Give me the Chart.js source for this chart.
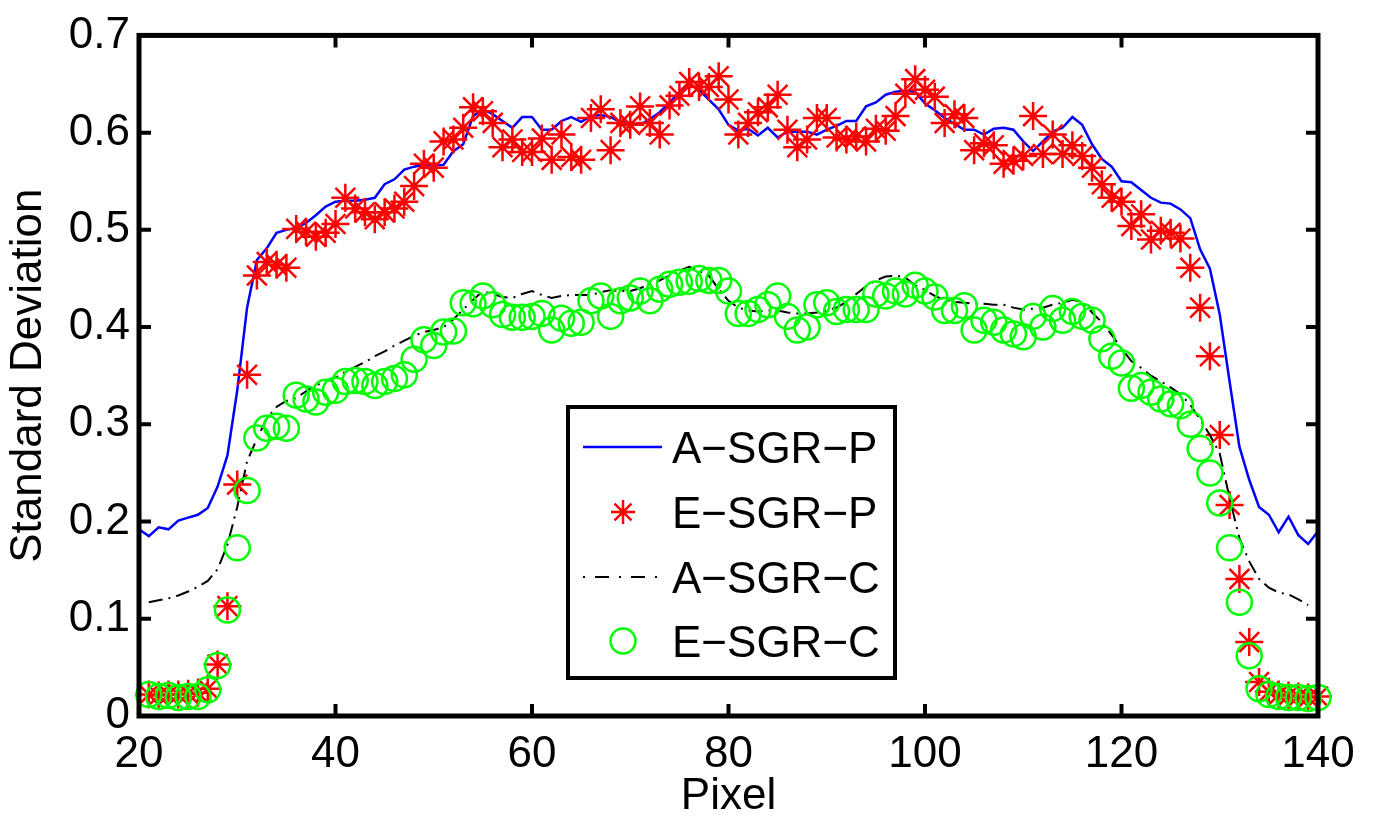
<!DOCTYPE html>
<html>
<head>
<meta charset="utf-8">
<script src="https://cdn.jsdelivr.net/npm/chart.js@4/dist/chart.umd.min.js"></script>
<style>
  body { margin: 0; background: #fff; }
  #wrap { width: 1375px; height: 823px; }
</style>
</head>
<body>
<div id="wrap"><canvas id="sdChart" width="1375" height="823"></canvas></div>
<script>
const pixel = [
  20, 21, 22, 23, 24, 25, 26, 27, 28, 29, 30, 31, 32, 33, 34, 35, 36, 37, 38, 39,
  40, 41, 42, 43, 44, 45, 46, 47, 48, 49, 50, 51, 52, 53, 54, 55, 56, 57, 58, 59,
  60, 61, 62, 63, 64, 65, 66, 67, 68, 69, 70, 71, 72, 73, 74, 75, 76, 77, 78, 79,
  80, 81, 82, 83, 84, 85, 86, 87, 88, 89, 90, 91, 92, 93, 94, 95, 96, 97, 98, 99,
  100, 101, 102, 103, 104, 105, 106, 107, 108, 109, 110, 111, 112, 113, 114, 115, 116, 117, 118, 119,
  120, 121, 122, 123, 124, 125, 126, 127, 128, 129, 130, 131, 132, 133, 134, 135, 136, 137, 138, 139,
  140
];

const aSgrP = [
  0.192, 0.185, 0.194, 0.192, 0.201, 0.204, 0.207, 0.214, 0.236, 0.268, 0.335, 0.420, 0.469, 0.481, 0.497, 0.500, 0.502, 0.507, 0.515, 0.524,
  0.529, 0.530, 0.530, 0.531, 0.533, 0.547, 0.552, 0.562, 0.565, 0.567, 0.566, 0.567, 0.581, 0.588, 0.617, 0.624, 0.619, 0.612, 0.605, 0.616,
  0.616, 0.603, 0.603, 0.612, 0.616, 0.611, 0.617, 0.618, 0.616, 0.611, 0.610, 0.608, 0.614, 0.621, 0.631, 0.642, 0.651, 0.644, 0.634, 0.624,
  0.608, 0.602, 0.604, 0.597, 0.605, 0.595, 0.601, 0.601, 0.601, 0.598, 0.603, 0.607, 0.612, 0.612, 0.627, 0.631, 0.639, 0.642, 0.643, 0.642,
  0.630, 0.623, 0.615, 0.609, 0.603, 0.603, 0.598, 0.604, 0.605, 0.603, 0.591, 0.581, 0.591, 0.601, 0.605, 0.616, 0.608, 0.588, 0.573, 0.565,
  0.550, 0.549, 0.541, 0.533, 0.528, 0.527, 0.521, 0.512, 0.480, 0.460, 0.413, 0.344, 0.277, 0.243, 0.215, 0.207, 0.189, 0.205, 0.186, 0.177,
  0.190
];

const eSgrP = [
  null, 0.022, 0.021, 0.022, 0.022, 0.023, 0.024, 0.028, 0.053, 0.113, 0.238, 0.351, 0.453, 0.467, 0.464, 0.461, 0.501, 0.498, 0.493, 0.497,
  0.506, 0.533, 0.522, 0.518, 0.511, 0.518, 0.522, 0.529, 0.545, 0.568, 0.564, 0.591, 0.593, 0.605, 0.626, 0.622, 0.610, 0.585, 0.593, 0.580,
  0.580, 0.594, 0.572, 0.598, 0.575, 0.572, 0.615, 0.624, 0.582, 0.610, 0.608, 0.627, 0.610, 0.598, 0.628, 0.638, 0.652, 0.647, 0.647, 0.658,
  0.634, 0.598, 0.610, 0.621, 0.626, 0.639, 0.603, 0.585, 0.593, 0.615, 0.615, 0.595, 0.593, 0.596, 0.591, 0.604, 0.602, 0.617, 0.640, 0.655,
  0.644, 0.637, 0.610, 0.619, 0.615, 0.582, 0.589, 0.587, 0.568, 0.571, 0.576, 0.617, 0.578, 0.598, 0.578, 0.587, 0.576, 0.564, 0.547, 0.533,
  0.529, 0.504, 0.516, 0.490, 0.499, 0.497, 0.491, 0.461, 0.420, 0.370, 0.289, 0.217, 0.141, 0.076, 0.035, 0.025, 0.022, 0.021, 0.020, 0.019,
  0.020
];

const aSgrC = [
  null, 0.117, 0.119, 0.121, 0.124, 0.128, 0.133, 0.139, 0.151, 0.176, 0.215, 0.262, 0.285, 0.306, 0.318, 0.324, 0.327, 0.334, 0.340, 0.344,
  0.348, 0.354, 0.359, 0.364, 0.370, 0.375, 0.381, 0.386, 0.391, 0.395, 0.397, 0.400, 0.408, 0.418, 0.428, 0.437, 0.434, 0.431, 0.430, 0.434,
  0.437, 0.433, 0.430, 0.432, 0.433, 0.433, 0.433, 0.436, 0.438, 0.437, 0.437, 0.440, 0.444, 0.448, 0.453, 0.458, 0.462, 0.458, 0.453, 0.439,
  0.427, 0.420, 0.417, 0.416, 0.417, 0.417, 0.415, 0.414, 0.414, 0.415, 0.417, 0.420, 0.426, 0.434, 0.442, 0.448, 0.452, 0.453, 0.451, 0.443,
  0.438, 0.432, 0.428, 0.426, 0.425, 0.424, 0.424, 0.423, 0.423, 0.420, 0.418, 0.419, 0.420, 0.423, 0.425, 0.428, 0.426, 0.415, 0.405, 0.392,
  0.378, 0.365, 0.358, 0.350, 0.344, 0.338, 0.331, 0.320, 0.305, 0.289, 0.270, 0.224, 0.183, 0.159, 0.141, 0.132, 0.127, 0.125, 0.120, 0.114,
  null
];

const eSgrC = [
  null, 0.022, 0.020, 0.021, 0.019, 0.020, 0.020, 0.027, 0.052, 0.109, 0.173, 0.232, 0.286, 0.296, 0.298, 0.296, 0.330, 0.326, 0.323, 0.333,
  0.335, 0.344, 0.345, 0.344, 0.340, 0.344, 0.347, 0.351, 0.367, 0.387, 0.381, 0.395, 0.396, 0.425, 0.424, 0.432, 0.423, 0.413, 0.410, 0.410,
  0.411, 0.414, 0.397, 0.409, 0.404, 0.405, 0.427, 0.432, 0.411, 0.427, 0.430, 0.437, 0.427, 0.439, 0.444, 0.446, 0.447, 0.450, 0.448, 0.448,
  0.437, 0.414, 0.414, 0.418, 0.423, 0.432, 0.411, 0.397, 0.400, 0.423, 0.425, 0.416, 0.418, 0.418, 0.418, 0.434, 0.432, 0.437, 0.434, 0.443,
  0.437, 0.431, 0.417, 0.417, 0.422, 0.397, 0.407, 0.405, 0.397, 0.393, 0.390, 0.411, 0.400, 0.419, 0.407, 0.416, 0.411, 0.407, 0.388, 0.370,
  0.363, 0.337, 0.340, 0.333, 0.326, 0.321, 0.319, 0.300, 0.275, 0.250, 0.219, 0.173, 0.117, 0.062, 0.028, 0.022, 0.020, 0.019, 0.019, 0.018,
  0.019
];

const seriesNames = ["A\u2212SGR\u2212P", "E\u2212SGR\u2212P", "A\u2212SGR\u2212C", "E\u2212SGR\u2212C"];
const xTicks = [20, 40, 60, 80, 100, 120, 140];
const yTickLabels = ["0", "0.1", "0.2", "0.3", "0.4", "0.5", "0.6", "0.7"];

const FONT = "'Liberation Sans', Arial, Helvetica, sans-serif";

function toPoints(values) {
  return pixel.map((p, i) => ({ x: p, y: values[i] }));
}

// MATLAB-like box with inward ticks on all four sides
const boxPlugin = {
  id: "box",
  afterDatasetsDraw(chart) {
    const { ctx, chartArea: a, scales } = chart;
    ctx.save();
    ctx.strokeStyle = "#000";
    ctx.lineWidth = 4;
    ctx.lineCap = "butt";
    ctx.beginPath();
    xTicks.slice(1, -1).forEach(v => {
      const px = scales.x.getPixelForValue(v);
      ctx.moveTo(px, a.bottom); ctx.lineTo(px, a.bottom - 12);
      ctx.moveTo(px, a.top); ctx.lineTo(px, a.top + 12);
    });
    yTickLabels.slice(1, -1).forEach(t => {
      const py = scales.y.getPixelForValue(parseFloat(t));
      ctx.moveTo(a.left, py); ctx.lineTo(a.left + 12, py);
      ctx.moveTo(a.right, py); ctx.lineTo(a.right - 12, py);
    });
    ctx.stroke();
    ctx.lineWidth = 5;
    ctx.lineJoin = "miter";
    ctx.strokeRect(a.left, a.top, a.right - a.left, a.bottom - a.top);
    ctx.restore();
  }
};

// legend box drawn inside the axes like MATLAB's
const legendPlugin = {
  id: "boxLegend",
  afterDraw(chart) {
    const ctx = chart.ctx;
    const bx = 568, by = 407, bw = 327, bh = 271;
    ctx.save();
    ctx.fillStyle = "#fff";
    ctx.fillRect(bx, by, bw, bh);
    ctx.strokeStyle = "#000";
    ctx.lineWidth = 4;
    ctx.strokeRect(bx, by, bw, bh);

    const rows = [447, 512, 577, 641];
    const sx = 583, ex = 662, cx = 623;

    // A-SGR-P
    ctx.strokeStyle = "#0000ff";
    ctx.lineWidth = 2.5;
    ctx.beginPath(); ctx.moveTo(sx, rows[0]); ctx.lineTo(ex, rows[0]); ctx.stroke();

    // E-SGR-P star
    ctx.strokeStyle = "#ff0000";
    ctx.lineWidth = 2.5;
    const r = 12, d = r * Math.SQRT1_2;
    ctx.beginPath();
    ctx.moveTo(cx - r, rows[1]); ctx.lineTo(cx + r, rows[1]);
    ctx.moveTo(cx, rows[1] - r); ctx.lineTo(cx, rows[1] + r);
    ctx.moveTo(cx - d, rows[1] - d); ctx.lineTo(cx + d, rows[1] + d);
    ctx.moveTo(cx - d, rows[1] + d); ctx.lineTo(cx + d, rows[1] - d);
    ctx.stroke();

    // A-SGR-C dash-dot
    ctx.strokeStyle = "#000";
    ctx.lineWidth = 2;
    ctx.setLineDash([2, 10, 14, 10]);
    ctx.beginPath(); ctx.moveTo(sx, rows[2]); ctx.lineTo(ex, rows[2]); ctx.stroke();
    ctx.setLineDash([]);

    // E-SGR-C circle
    ctx.strokeStyle = "#00ff00";
    ctx.lineWidth = 2.5;
    ctx.beginPath(); ctx.arc(cx, rows[3], 12.5, 0, Math.PI * 2); ctx.stroke();

    ctx.fillStyle = "#000";
    ctx.font = "44px " + FONT;
    ctx.textAlign = "left";
    ctx.textBaseline = "alphabetic";
    seriesNames.forEach((name, i) => ctx.fillText(name, 672, rows[i] + 16));
    ctx.restore();
  }
};

const ctx = document.getElementById("sdChart").getContext("2d");
const sdChart = new Chart(ctx, {
  type: "line",
  data: {
    datasets: [
      {
        label: seriesNames[0],
        data: toPoints(aSgrP),
        borderColor: "#0000ff",
        borderWidth: 2.5,
        pointRadius: 0,
        tension: 0,
        order: 4,
        clip: false
      },
      {
        label: seriesNames[1],
        data: toPoints(eSgrP),
        showLine: false,
        pointStyle: "star",
        pointRadius: 14,
        pointBorderColor: "#ff0000",
        pointBackgroundColor: "#ff0000",
        pointBorderWidth: 2.5,
        order: 3,
        clip: false
      },
      {
        label: seriesNames[2],
        data: toPoints(aSgrC),
        borderColor: "#000000",
        borderWidth: 2,
        borderDash: [14, 6, 2, 6],
        pointRadius: 0,
        tension: 0,
        order: 2,
        clip: false
      },
      {
        label: seriesNames[3],
        data: toPoints(eSgrC),
        showLine: false,
        pointStyle: "circle",
        pointRadius: 12.5,
        pointBorderColor: "#00ff00",
        pointBackgroundColor: "rgba(0,0,0,0)",
        pointBorderWidth: 2.5,
        order: 1,
        clip: false
      }
    ]
  },
  options: {
    responsive: false,
    animation: false,
    events: [],
    layout: { padding: { top: 24, right: 57, left: 0, bottom: 0 } },
    plugins: {
      legend: { display: false },
      tooltip: { enabled: false }
    },
    scales: {
      x: {
        type: "linear",
        min: 20,
        max: 140,
        afterFit: s => { s.height = 107; },
        afterBuildTicks: s => { s.ticks = xTicks.map(v => ({ value: v })); },
        grid: { display: false, drawTicks: false },
        border: { display: false },
        ticks: {
          color: "#000",
          padding: 12,
          maxRotation: 0,
          font: { family: FONT, size: 44 }
        },
        title: {
          display: true,
          text: "Pixel",
          color: "#000",
          padding: { top: 0, bottom: 0 },
          font: { family: FONT, size: 44, lineHeight: 1.2 }
        }
      },
      y: {
        min: 0,
        max: 0.7,
        afterFit: s => { s.width = 139; },
        afterBuildTicks: s => { s.ticks = yTickLabels.map(t => ({ value: parseFloat(t) })); },
        grid: { display: false, drawTicks: false },
        border: { display: false },
        ticks: {
          color: "#000",
          padding: 9,
          font: { family: FONT, size: 44 },
          callback: (v, i) => yTickLabels[i]
        },
        title: {
          display: true,
          text: "Standard Deviation",
          color: "#000",
          padding: { top: 2, bottom: 0 },
          font: { family: FONT, size: 44, lineHeight: 1.2 }
        }
      }
    }
  },
  plugins: [boxPlugin, legendPlugin]
});
</script>
</body>
</html>
